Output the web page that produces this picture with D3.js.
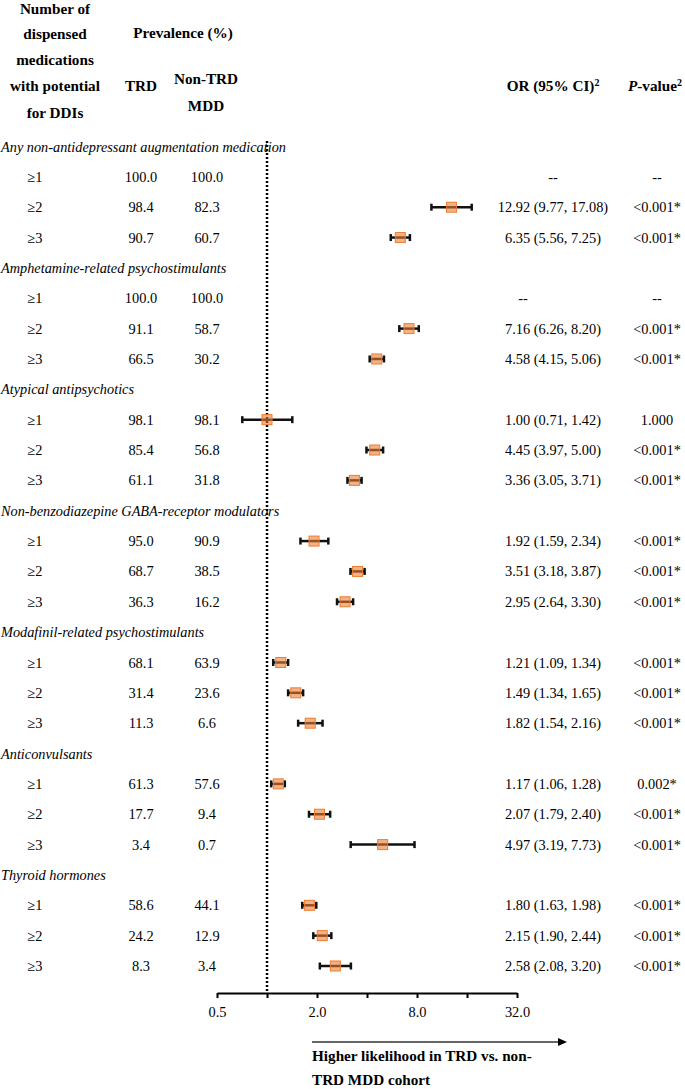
<!DOCTYPE html>
<meta charset="utf-8">
<head>
<script src="https://d3js.org/d3.v7.min.js"></script>
<style>
body { margin: 0; background: #fff; }
text { font-family: "Liberation Serif", "Times New Roman", serif; fill: #000; }
.hdr { font-weight: bold; font-size: 15.2px; }
.cell { font-size: 14.4px; }
.grp { font-size: 14.3px; font-style: italic; }
.axis text { font-family: "Liberation Serif", serif; font-size: 14.4px; }
.axis path, .axis line { stroke: #000; stroke-width: 2px; }
</style>
</head>
<body>
<script>

// data
var groups = [
  "Any non-antidepressant augmentation medication",
  "Amphetamine-related psychostimulants",
  "Atypical antipsychotics",
  "Non-benzodiazepine GABA-receptor modulators",
  "Modafinil-related psychostimulants",
  "Anticonvulsants",
  "Thyroid hormones"
];
var levels = ["\u22651", "\u22652", "\u22653"];

var trd    = [100.0, 98.4, 90.7,  100.0, 91.1, 66.5,  98.1, 85.4, 61.1,  95.0, 68.7, 36.3,  68.1, 31.4, 11.3,  61.3, 17.7, 3.4,  58.6, 24.2, 8.3];
var nonTrd = [100.0, 82.3, 60.7,  100.0, 58.7, 30.2,  98.1, 56.8, 31.8,  90.9, 38.5, 16.2,  63.9, 23.6, 6.6,   57.6, 9.4, 0.7,   44.1, 12.9, 3.4];
var orEst  = [null, 12.92, 6.35,  null, 7.16, 4.58,  1.00, 4.45, 3.36,  1.92, 3.51, 2.95,  1.21, 1.49, 1.82,  1.17, 2.07, 4.97,  1.80, 2.15, 2.58];
var orLo   = [null, 9.77, 5.56,   null, 6.26, 4.15,  0.71, 3.97, 3.05,  1.59, 3.18, 2.64,  1.09, 1.34, 1.54,  1.06, 1.79, 3.19,  1.63, 1.90, 2.08];
var orHi   = [null, 17.08, 7.25,  null, 8.20, 5.06,  1.42, 5.00, 3.71,  2.34, 3.87, 3.30,  1.34, 1.65, 2.16,  1.28, 2.40, 7.73,  1.98, 2.44, 3.20];
var pVals  = ["--", "<0.001*", "<0.001*",  "--", "<0.001*", "<0.001*",  "1.000", "<0.001*", "<0.001*",
              "<0.001*", "<0.001*", "<0.001*",  "<0.001*", "<0.001*", "<0.001*",  "0.002*", "<0.001*", "<0.001*",
              "<0.001*", "<0.001*", "<0.001*"];
var axisTicks = [0.5, 1, 2, 4, 8, 16, 32];
var axisLabels = [0.5, 2, 8, 32];

var width = 685, height = 1089;

var svg = d3.select("body").append("svg")
    .attr("width", width)
    .attr("height", height);

// scales
var x = d3.scaleLog().base(2).domain([0.5, 32]).range([217, 517]);
var y = d3.scaleLinear().domain([0, 27]).range([146.5, 966]);

// build rows: title row then three level rows per group
var rows = [];
groups.forEach(function(g, gi) {
  rows.push({type: "title", label: g, r: gi * 4});
  levels.forEach(function(l, li) {
    var k = gi * 3 + li;
    rows.push({type: "row", label: l, r: gi * 4 + li + 1,
      trd: trd[k], non: nonTrd[k], or: orEst[k], lo: orLo[k], hi: orHi[k], p: pVals[k], gi: gi});
  });
});

function fmt(v) { return v.toFixed(2); }

// header
var hdr = svg.append("g").attr("class", "hdr");
["Number of", "dispensed", "medications", "with potential", "for DDIs"].forEach(function(t, i) {
  hdr.append("text").attr("x", 55).attr("y", [9, 34, 60, 86, 113][i]).attr("dy", "0.35em")
    .attr("text-anchor", "middle").text(t);
});
hdr.append("text").attr("x", 183).attr("y", 33).attr("dy", "0.35em").attr("text-anchor", "middle").text("Prevalence (%)");
hdr.append("text").attr("x", 141).attr("y", 86).attr("dy", "0.35em").attr("text-anchor", "middle").text("TRD");
hdr.append("text").attr("x", 206).attr("y", 79).attr("dy", "0.35em").attr("text-anchor", "middle").text("Non-TRD");
hdr.append("text").attr("x", 206).attr("y", 106).attr("dy", "0.35em").attr("text-anchor", "middle").text("MDD");

var orH = hdr.append("text").attr("x", 553).attr("y", 86).attr("dy", "0.35em").attr("text-anchor", "middle");
orH.append("tspan").text("OR (95% CI)");
orH.append("tspan").attr("font-size", "10px").attr("dy", "-5").text("2");
var pH = hdr.append("text").attr("x", 655).attr("y", 86).attr("dy", "0.35em").attr("text-anchor", "middle");
pH.append("tspan").attr("font-style", "italic").text("P");
pH.append("tspan").text("-value");
pH.append("tspan").attr("font-size", "10px").attr("dy", "-5").text("2");

// reference line at OR = 1
svg.append("line")
    .attr("x1", x(1)).attr("x2", x(1))
    .attr("y1", 141).attr("y2", 993)
    .attr("stroke", "#000").attr("stroke-width", 2.5)
    .attr("stroke-dasharray", "2,2");

// group titles
svg.selectAll(".grp").data(rows.filter(function(d) { return d.type == "title"; }))
  .enter().append("text")
    .attr("class", "grp")
    .attr("x", 1)
    .attr("y", function(d) { return y(d.r); })
    .attr("dy", "0.35em")
    .text(function(d) { return d.label; });

var dataRows = rows.filter(function(d) { return d.type == "row"; });

var rowG = svg.selectAll(".rowg").data(dataRows).enter().append("g")
    .attr("class", "cell")
    .attr("transform", function(d) { return "translate(0," + y(d.r) + ")"; });

rowG.append("text").attr("x", 35).attr("dy", "0.35em").attr("text-anchor", "middle").text(function(d) { return d.label; });
rowG.append("text").attr("x", 141).attr("dy", "0.35em").attr("text-anchor", "middle").text(function(d) { return d.trd.toFixed(1); });
rowG.append("text").attr("x", 207).attr("dy", "0.35em").attr("text-anchor", "middle").text(function(d) { return d.non.toFixed(1); });
rowG.append("text")
    .attr("x", function(d) { return d.or == null && d.gi == 1 ? 523 : 553; })
    .attr("dy", "0.35em").attr("text-anchor", "middle")
    .text(function(d) { return d.or == null ? "--" : fmt(d.or) + " (" + fmt(d.lo) + ", " + fmt(d.hi) + ")"; });
rowG.append("text").attr("x", 657).attr("dy", "0.35em").attr("text-anchor", "middle").text(function(d) { return d.p; });

// forest marks
var marks = rowG.filter(function(d) { return d.or != null; });
marks.append("line")
    .attr("x1", function(d) { return x(d.lo); })
    .attr("x2", function(d) { return x(d.hi); })
    .attr("stroke", "#111").attr("stroke-width", 2.5);
marks.append("line")
    .attr("x1", function(d) { return x(d.lo); }).attr("x2", function(d) { return x(d.lo); })
    .attr("y1", -3.5).attr("y2", 3.5)
    .attr("stroke", "#111").attr("stroke-width", 2.5);
marks.append("line")
    .attr("x1", function(d) { return x(d.hi); }).attr("x2", function(d) { return x(d.hi); })
    .attr("y1", -3.5).attr("y2", 3.5)
    .attr("stroke", "#111").attr("stroke-width", 2.5);
marks.append("rect")
    .attr("x", function(d) { return x(d.or) - 5; })
    .attr("y", -5)
    .attr("width", 10).attr("height", 10)
    .attr("fill", "#ed7d31").attr("fill-opacity", 0.6)
    .attr("stroke", "#ed7d31").attr("stroke-width", 1);

// x axis
svg.append("g")
    .attr("class", "axis")
    .attr("transform", "translate(0,993)")
    .call(d3.axisBottom(x)
      .tickValues(axisTicks)
      .tickSize(5)
      .tickSizeOuter(0)
      .tickPadding(9)
      .tickFormat(function(d) { return axisLabels.indexOf(d) >= 0 ? d.toFixed(1) : ""; }));

// direction arrow
svg.append("line")
    .attr("x1", 312).attr("x2", 559)
    .attr("y1", 1042).attr("y2", 1042)
    .attr("stroke", "#333").attr("stroke-width", 1.5);
svg.append("path")
    .attr("d", "M558,1038 L567,1042 L558,1046 Z")
    .attr("fill", "#000");

svg.append("text").attr("class", "hdr").attr("x", 312).attr("y", 1056).attr("dy", "0.35em")
    .text("Higher likelihood in TRD vs. non-");
svg.append("text").attr("class", "hdr").attr("x", 312).attr("y", 1080).attr("dy", "0.35em")
    .text("TRD MDD cohort");

</script>
</body>
